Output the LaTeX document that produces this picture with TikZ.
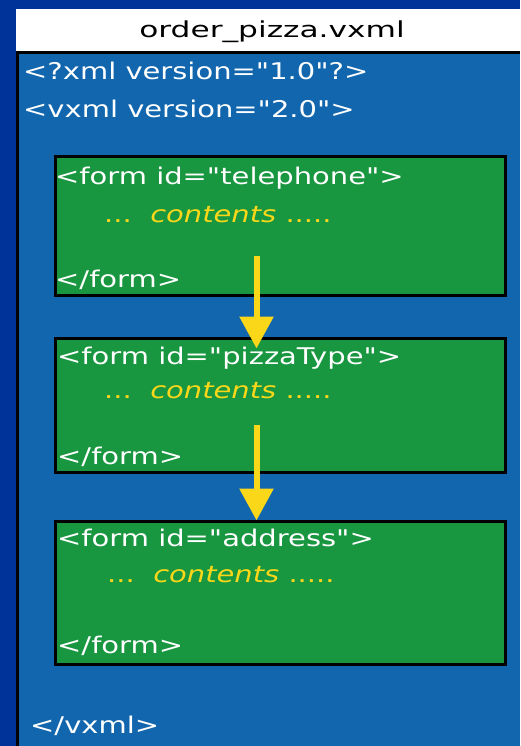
\documentclass[tikz,border=0pt]{standalone}
\usepackage{fontspec}
\setmainfont{DejaVu Sans}[Ligatures=TeXOff]
\usetikzlibrary{arrows.meta}
\definecolor{darkbg}{RGB}{0,51,153}
\definecolor{panel}{RGB}{17,102,173}
\definecolor{formgreen}{RGB}{25,150,64}
\definecolor{codeyellow}{RGB}{250,215,25}
\newcommand{\widetxt}[1]{\scalebox{1.26}[1]{#1}}
\newcommand{\titletxt}[1]{\scalebox{1.42}[1]{#1}}
\newcommand{\conttxt}{\widetxt{...\ \ \textit{contents} .....}}
\begin{document}
\begin{tikzpicture}[x=1pt,y=-1pt,
  code/.style={anchor=base west, text=white, inner sep=0pt, font=\fontsize{23}{27}\selectfont},
  contents/.style={code, text=codeyellow},
  formbox/.style={draw=black, line width=3pt, fill=formgreen, anchor=north west, minimum width=450.5pt, inner sep=0pt},
  flow/.style={draw=codeyellow, line width=6pt, -{Triangle[width=33pt,length=32pt]}}
]
\useasboundingbox (0,0) rectangle (520,746);
\fill[darkbg] (0,0) rectangle (520,746);
\fill[white] (16,9) rectangle (520,51);
\fill[panel] (19,54) rectangle (520,746);
\draw[black, line width=3pt] (16,52.5) -- (520,52.5);
\draw[black, line width=3pt] (17.5,51) -- (17.5,746);

\node[anchor=base, inner sep=0pt, font=\fontsize{22}{25}\selectfont] (title) at (272,38) {\titletxt{order\_pizza.vxml}};

\node[code] (xmldecl) at (23,80) {\widetxt{<?xml version="1.0"?>}};
\node[code] (vxmlopen) at (23,118) {\widetxt{<vxml version="2.0">}};

\node[formbox, minimum height=138pt] (tel) at (53.5,155.5) {};
\node[formbox, minimum height=134pt] (pizza) at (53.5,336.5) {};
\node[formbox, minimum height=143pt] (addr) at (53.5,519.5) {};

\node[code] (telopen) at (55,184) {\widetxt{<form id="telephone">}};
\node[contents] (telcont) at (104,222) {\conttxt};
\node[code] (telclose) at (55,287) {\widetxt{</form>}};

\node[code] (pizzaopen) at (57,364) {\widetxt{<form id="pizzaType">}};
\node[contents] (pizzacont) at (104,398) {\conttxt};
\node[code] (pizzaclose) at (57,464) {\widetxt{</form>}};

\node[code] (addropen) at (57,546) {\widetxt{<form id="address">}};
\node[contents] (addrcont) at (107,582) {\conttxt};
\node[code] (addrclose) at (57,653) {\widetxt{</form>}};

\node[code] (vxmlclose) at (30,733) {\widetxt{</vxml>}};

\draw[flow] ([xshift=-23.75pt,yshift=41pt]tel.south) -- ([xshift=-23.75pt,yshift=-12pt]pizza.north);
\draw[flow] ([xshift=-23.75pt,yshift=49pt]pizza.south) -- ([xshift=-23.75pt,yshift=-1pt]addr.north);
\end{tikzpicture}
\end{document}
